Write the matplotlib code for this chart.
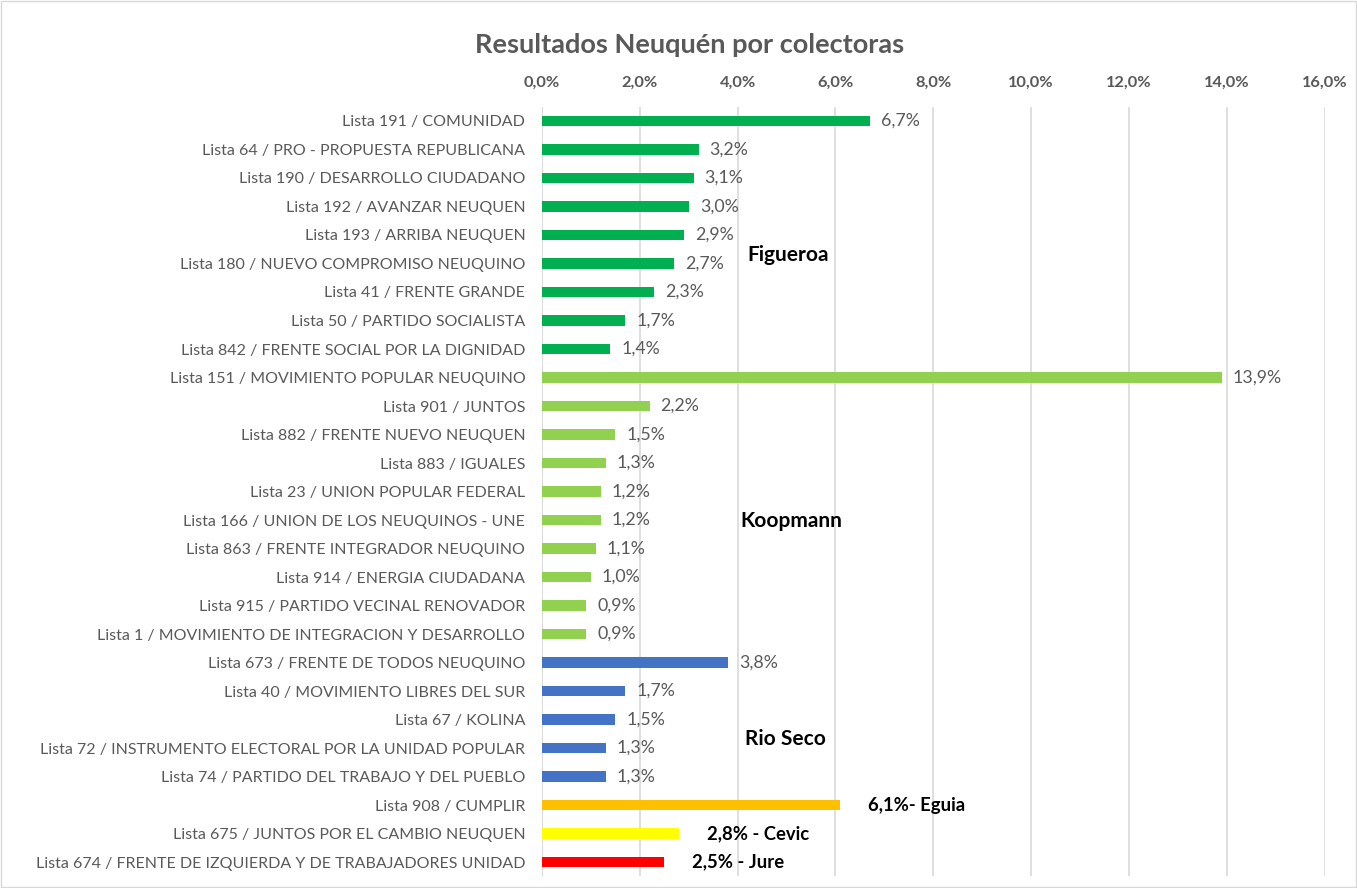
import matplotlib.pyplot as plt
from matplotlib.patches import Rectangle

plt.rcParams['font.family'] = ['Lato', 'DejaVu Sans']

# Listas colectoras (de arriba hacia abajo)
listas = [
    'Lista 191 / COMUNIDAD',
    'Lista 64 / PRO - PROPUESTA REPUBLICANA',
    'Lista 190 / DESARROLLO CIUDADANO',
    'Lista 192 / AVANZAR NEUQUEN',
    'Lista 193 / ARRIBA NEUQUEN',
    'Lista 180 / NUEVO COMPROMISO NEUQUINO',
    'Lista 41 / FRENTE GRANDE',
    'Lista 50 / PARTIDO SOCIALISTA',
    'Lista 842 / FRENTE SOCIAL POR LA DIGNIDAD',
    'Lista 151 / MOVIMIENTO POPULAR NEUQUINO',
    'Lista 901 / JUNTOS',
    'Lista 882 / FRENTE NUEVO NEUQUEN',
    'Lista 883 / IGUALES',
    'Lista 23 / UNION POPULAR FEDERAL',
    'Lista 166 / UNION DE LOS NEUQUINOS - UNE',
    'Lista 863 / FRENTE INTEGRADOR NEUQUINO',
    'Lista 914 / ENERGIA CIUDADANA',
    'Lista 915 / PARTIDO VECINAL RENOVADOR',
    'Lista 1 / MOVIMIENTO DE INTEGRACION Y DESARROLLO',
    'Lista 673 / FRENTE DE TODOS NEUQUINO',
    'Lista 40 / MOVIMIENTO LIBRES DEL SUR',
    'Lista 67 / KOLINA',
    'Lista 72 / INSTRUMENTO ELECTORAL POR LA UNIDAD POPULAR',
    'Lista 74 / PARTIDO DEL TRABAJO Y DEL PUEBLO',
    'Lista 908 / CUMPLIR',
    'Lista 675 / JUNTOS POR EL CAMBIO NEUQUEN',
    'Lista 674 / FRENTE DE IZQUIERDA Y DE TRABAJADORES UNIDAD',
]
porcentajes = [6.7, 3.2, 3.1, 3.0, 2.9, 2.7, 2.3, 1.7, 1.4,
               13.9, 2.2, 1.5, 1.3, 1.2, 1.2, 1.1, 1.0, 0.9, 0.9,
               3.8, 1.7, 1.5, 1.3, 1.3,
               6.1, 2.8, 2.5]
candidato = ['Figueroa'] * 9 + ['Koopmann'] * 10 + ['Rio Seco'] * 5 + ['Eguia', 'Cevic', 'Jure']

colores_cand = {
    'Figueroa': '#00B050',
    'Koopmann': '#92D050',
    'Rio Seco': '#4472C4',
    'Eguia': '#FFC000',
    'Cevic': '#FFFF00',
    'Jure': '#FF0000',
}
# etiquetas de grupo: (texto, x en %, fila)
grupos = [('Figueroa', 4.2, 4.7), ('Koopmann', 4.05, 14.05), ('Rio Seco', 4.15, 21.7)]
# candidatos con una sola lista
unicos = {'Eguia': '- Eguia', 'Cevic': ' - Cevic', 'Jure': ' - Jure'}

fig = plt.figure(figsize=(13.57, 8.88), dpi=100)
ax = fig.add_axes([0.3994, 0.0132, 0.5767, 0.8666])

y = list(range(len(listas)))
cols = [colores_cand[c] for c in candidato]
ax.barh(y, porcentajes, height=0.36, color=cols, zorder=3)

gris = '#595959'
for yi, v, c in zip(y, porcentajes, candidato):
    txt = f'{v:.1f}%'.replace('.', ',')
    if c in unicos:
        ax.annotate(txt + unicos[c], (v, yi), xytext=(28, 0), textcoords='offset pixels',
                    va='center', ha='left', fontsize=13.3, fontweight='bold', color='black')
    else:
        ax.annotate(txt, (v, yi), xytext=(11, 0), textcoords='offset pixels',
                    va='center', ha='left', fontsize=12.8, color=gris)

for nombre, gx, gy in grupos:
    ax.text(gx, gy, nombre, va='center', ha='left', fontsize=15, fontweight='bold', color='black')

ax.set_xlim(0, 16)
ax.set_ylim(len(listas) - 0.5, -0.5)
ax.set_xticks(range(0, 17, 2))
ax.set_xticklabels([f'{t:.1f}%'.replace('.', ',') for t in range(0, 17, 2)])
ax.xaxis.tick_top()
ax.tick_params(axis='x', length=0, pad=12, labelsize=11.8, labelcolor=gris)
for lab in ax.get_xticklabels():
    lab.set_fontweight('bold')
ax.set_yticks(y)
ax.set_yticklabels(listas)
ax.tick_params(axis='y', length=0, pad=12, labelsize=11.5, labelcolor=gris)

ax.grid(axis='x', color='#D9D9D9', linewidth=1.2, zorder=0)
ax.axvline(0, color='#D9D9D9', linewidth=1.2, zorder=1)
for s in ax.spines.values():
    s.set_visible(False)

fig.text(0.508, 0.949, 'Resultados Neuquén por colectoras', ha='center', va='center',
         fontsize=19.5, fontweight='bold', color=gris)

fig.patches.append(Rectangle((0.001, 0.001), 0.998, 0.998, transform=fig.transFigure,
                             fill=False, edgecolor='#D9D9D9', linewidth=1))

fig.savefig('out.png', dpi=100)
